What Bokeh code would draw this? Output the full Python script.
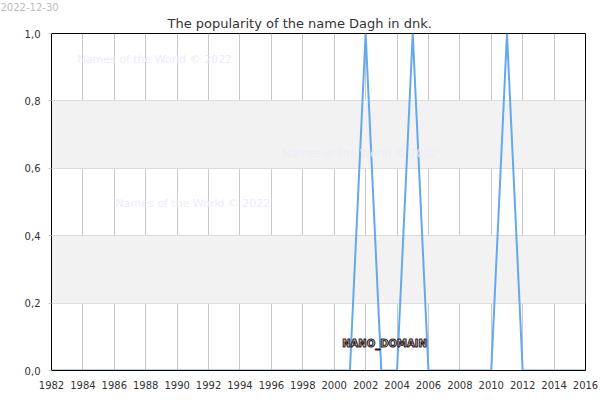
from bokeh.plotting import figure
from bokeh.models import Label, FixedTicker, CustomJSTickFormatter, Range1d, Title
from bokeh.embed import file_html
from bokeh.resources import INLINE

years = list(range(1982, 2017))
popularity = [0, 0, 0, 0, 0, 0, 0, 0, 0, 0, 0, 0, 0, 0, 0, 0, 0, 0, 0,
              0, 1, 0, 0, 1, 0, 0, 0, 0, 0, 1, 0, 0, 0, 0, 0]
x_ticks = list(range(1982, 2017, 2))
y_ticks = [0.0, 0.2, 0.4, 0.6, 0.8, 1.0]
title_text = "The popularity of the name Dagh in dnk."
date_text = "2022-12-30"
watermark = "Names of the World © 2022"
domain_text = "NANO_DOMAIN"

FONT = "DejaVu Sans"

W, H = 600, 400
BL, BR, BT, BB = 51, 15, 23, 30

p = figure(width=W, height=H, output_backend="svg", toolbar_location=None,
           x_range=Range1d(1982, 2016), y_range=Range1d(0, 1),
           min_border_left=BL, min_border_right=BR, min_border_top=BT, min_border_bottom=BB)

# outermost title: the date stamp (top-left corner)
p.title.text = date_text
p.title.text_font = FONT
p.title.text_font_size = "10px"
p.title.text_font_style = "normal"
p.title.text_color = "#bbbbbb"
p.title.align = "left"
p.title.offset = -51
p.title.standoff = 0
p.title.text_line_height = 0.1

# inner title: the chart title
p.add_layout(Title(text=title_text, text_font=FONT, text_font_size="13px",
                   text_font_style="normal", text_color="#333333",
                   align="left", offset=116, standoff=6, text_line_height=0.75), "above")

p.outline_line_color = "black"
p.outline_line_width = 1
p.background_fill_color = "white"

p.line(years, popularity, line_color="#64a8f0", line_width=2)

p.xaxis.ticker = FixedTicker(ticks=x_ticks)
p.yaxis.ticker = FixedTicker(ticks=y_ticks)
p.yaxis.formatter = CustomJSTickFormatter(code="return tick.toFixed(1).replace('.', ',');")

for ax in (p.xaxis[0], p.yaxis[0]):
    ax.axis_line_color = "black"
    ax.major_label_text_font = FONT
    ax.major_label_text_font_size = "10px"
    ax.major_label_text_color = "#333333"
    ax.minor_tick_line_color = None
p.xaxis.major_tick_line_color = None
p.xaxis.major_label_standoff = 4
p.yaxis.major_tick_line_color = "#cccccc"
p.yaxis.major_tick_out = 3
p.yaxis.major_tick_in = 0
p.yaxis.major_label_standoff = 8

p.xgrid.grid_line_color = "#c8c8c8"
p.xgrid.grid_line_width = 1
p.ygrid.grid_line_color = "#dddddd"
p.ygrid.band_fill_color = "#f2f2f2"
p.ygrid.band_fill_alpha = 1.0

wm_color = "#ececf8"
for (x, y) in [(26, 311), (231, 217), (64, 167)]:
    p.add_layout(Label(x=x, y=y, x_units="screen", y_units="screen", text=watermark,
                       text_font=FONT, text_font_size="11px", text_color=wm_color,
                       text_baseline="middle", text_align="left"))

p.add_layout(Label(x=2003.2, y=0.08, text=domain_text, text_font=FONT,
                   text_font_size="10px", text_font_style="bold",
                   text_color="#d8c8c8", text_outline_color="#2a1818",
                   text_align="center", text_baseline="middle"))

open("out.html", "w").write(file_html(p, INLINE))
